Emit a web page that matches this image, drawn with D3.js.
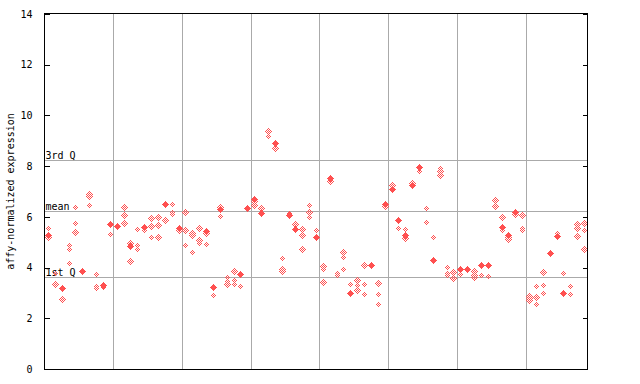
<!DOCTYPE html>
<html><head><meta charset="utf-8">
<script src="https://cdn.jsdelivr.net/npm/d3@7"></script>
<style>body{margin:0;background:#fff}svg{display:block}text{font-family:"DejaVu Sans Mono",monospace;font-size:10px;fill:#000}</style>
</head><body><svg id="c" width="640" height="384"></svg>
<script>
// sample-level values: one "solid" value (or null) and "hollow" replicate values per sample
const solid = [5.27,null,3.21,null,null,3.88,null,null,3.3,5.73,
  5.63,null,4.87,null,5.61,null,null,6.52,null,5.57,
  null,null,null,5.45,3.25,6.3,null,null,3.76,6.36,
  6.7,6.17,null,8.92,null,6.07,5.53,null,null,5.22,
  null,7.54,null,null,3.01,null,null,4.1,null,6.51,
  7.11,5.86,5.27,7.24,7.98,null,4.31,null,null,null,
  3.93,3.96,null,4.11,4.11,null,5.6,5.28,6.19,null,
  null,null,null,4.56,5.26,3.01,null,null,null];
const hollow = [[5.55,5.19],[3.77,3.34],[2.75],[4.89,4.73,4.17],[6.38,5.74,5.39],[],[6.9,6.84,6.45],[3.73,3.29,3.21],[3.22],[5.31],
  [5.6],[6.38,6.07,5.74],[4.95,4.25],[5.51,4.89,4.72],[5.5],[5.94,5.65,5.19],[5.98,5.67,5.19],[5.88],[6.51,6.2,6.1],[5.48],
  [6.18,5.47,4.88],[5.35,5.27,4.6],[5.56,5.07,4.98],[5.35,4.92],[2.9],[6.38,6.02],[3.64,3.47,3.34],[3.85,3.5,3.34],[3.27],[],
  [6.62,6.45],[6.34],[9.37,9.19],[8.73],[4.36,3.96,3.85],[6.14],[5.72],[5.51,5.27,4.72],[6.45,6.19,5.99],[5.47],
  [4.05,3.96,3.42],[7.42],[3.77,3.71],[4.61,4.42,3.93],[3.34],[3.51,3.31,3.1],[4.09,3.36,2.95],[],[3.38,2.95,2.55],[6.42],
  [7.24],[5.55],[5.51,5.18],[7.32],[7.82],[6.34,5.78],[5.19],[7.94,7.81,7.64],[4.01,3.8,3.72],[3.81,3.58],
  [3.73],[],[3.85,3.71,3.62],[3.69],[3.66],[6.66,6.43],[5.98,5.57,5.47],[5.19,5.11],[6.1],[6.06,5.55,5.48],
  [2.89,2.81,2.72],[3.27,2.84,2.55],[3.81,3.3,2.98],[],[5.35],[3.77],[3.26,2.95],[5.72,5.55,5.23],[5.76,5.47,4.72]];
const yTicks = [0,2,4,6,8,10,12,14];
const groupBreaks = [10,20,30,40,50,60,70];
const refLines = [{label:"3rd Q", v:8.23},{label:"mean", v:6.22},{label:"1st Q", v:3.63}];
const yLabel = "affy-normalized expression";

const svg = d3.select("#c");
const L=44.5, R=587.5, T=13.5, B=369.5;
const x = d3.scaleLinear().domain([0, solid.length]).range([L, R]);
const y = d3.scaleLinear().domain([0, 14]).range([369, 14]);
const red = "#ff5050", grid = "#aaaaaa";

const defs = svg.append("defs");
const pat = defs.append("pattern").attr("id","chk").attr("patternUnits","userSpaceOnUse")
  .attr("width",2).attr("height",2);
pat.append("rect").attr("x",0).attr("y",0).attr("width",1).attr("height",1).attr("fill",red);
pat.append("rect").attr("x",1).attr("y",1).attr("width",1).attr("height",1).attr("fill",red);

const px = v => Math.round(v) + 0.5;
// vertical group lines
svg.append("g").selectAll("line").data(groupBreaks).join("line")
  .attr("x1", d=>px(x(d))).attr("x2", d=>px(x(d))).attr("y1",T).attr("y2",B)
  .attr("stroke",grid).attr("shape-rendering","crispEdges");
// reference lines
svg.append("g").selectAll("line").data(refLines).join("line")
  .attr("x1",L).attr("x2",R).attr("y1",d=>px(y(d.v))).attr("y2",d=>px(y(d.v)))
  .attr("stroke",grid).attr("shape-rendering","crispEdges");
svg.append("g").selectAll("text").data(refLines).join("text")
  .attr("x",L+1).attr("y",d=>Math.round(y(d.v))-1).text(d=>d.label);

// points
const diamond = (cx, cy, r) => `M${cx},${cy-r}L${cx+r},${cy}L${cx},${cy+r}L${cx-r},${cy}Z`;
const hollowPts = [];
hollow.forEach((arr,i)=>arr.forEach(v=>hollowPts.push({i,v})));
const solidPts = solid.map((v,i)=>({i,v})).filter(d=>d.v!==null);
svg.append("g").selectAll("path").data(hollowPts).join("path")
  .attr("d", d=>diamond(px(x(d.i+0.5)), px(y(d.v)), 3.6))
  .attr("fill","url(#chk)").attr("shape-rendering","crispEdges");
svg.append("g").selectAll("path").data(solidPts).join("path")
  .attr("d", d=>diamond(px(x(d.i+0.5)), px(y(d.v)), 3.6))
  .attr("fill",red).attr("shape-rendering","crispEdges");

// frame
svg.append("rect").attr("x",L).attr("y",T).attr("width",R-L).attr("height",B-T)
  .attr("fill","none").attr("stroke","#000").attr("shape-rendering","crispEdges");
// axes with inward ticks
const yl = svg.append("g").attr("transform",`translate(${L},0)`)
  .call(d3.axisLeft(y).tickValues(yTicks).tickSize(-5).tickPadding(12).tickFormat(d3.format("d")));
const yr = svg.append("g").attr("transform",`translate(${R},0)`)
  .call(d3.axisRight(y).tickValues(yTicks).tickSize(-5).tickFormat(""));
[yl,yr].forEach(g=>{g.select(".domain").remove();g.selectAll("line").attr("stroke","#000").attr("shape-rendering","crispEdges");});
yl.selectAll("text").attr("font-family","DejaVu Sans Mono").attr("font-size",10).attr("fill","#000");

svg.append("text").attr("transform",`translate(14,${(T+B)/2}) rotate(-90)`)
  .attr("text-anchor","middle").text(yLabel);
</script></body></html>
